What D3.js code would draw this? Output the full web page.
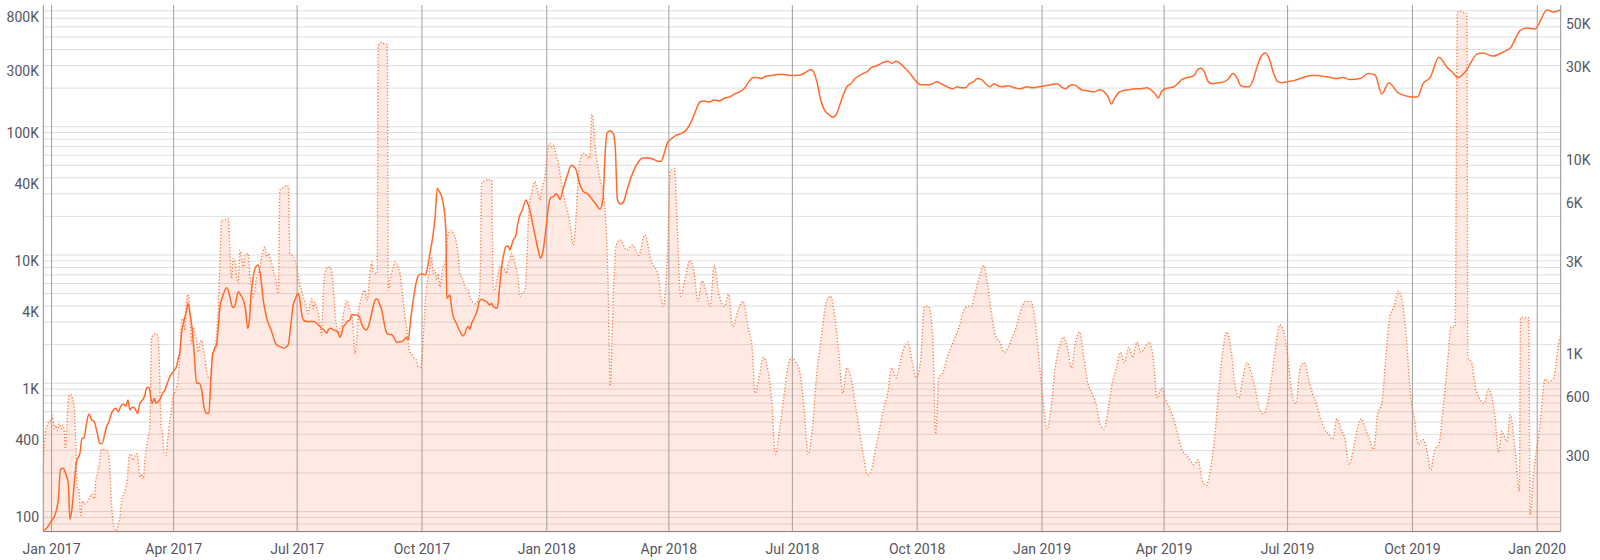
<!DOCTYPE html>
<html><head><meta charset="utf-8">
<script src="https://cdn.jsdelivr.net/npm/d3@7"></script>
<style>body{margin:0;background:#fff;} svg{display:block;font-family:Roboto,"Noto Sans",sans-serif;}</style>
</head><body><svg id="c" width="1600" height="560"></svg>
<script>
const baseDate = "2017-01-01";
const xDomainDays = [-6.1, 1112.3];
const leftDomain = [69.8, 888500];
const rightDomain = [114, 58500];
const leftTicks = [100, 400, 1000, 4000, 10000, 40000, 100000, 300000, 800000];
const leftTickLabels = ["100", "400", "1K", "4K", "10K", "40K", "100K", "300K", "800K"];
const rightTicks = [300, 600, 1000, 3000, 6000, 10000, 30000, 50000];
const rightTickLabels = ["300", "600", "1K", "3K", "6K", "10K", "30K", "50K"];
const xTickDates = ["2017-01-01","2017-04-01","2017-07-01","2017-10-01","2018-01-01","2018-04-01","2018-07-01","2018-10-01","2019-01-01","2019-04-01","2019-07-01","2019-10-01","2020-01-01"];

const solidDays = [-6.1,-3.7,0,1.7,4.9,6.6,8.6,10.3,12.3,13.5,15.2,16.7,18.4,20.9,22.4,23.8,25.8,27.5,29.5,31.4,33.7,35.6,37.3,39.3,40.5,42.3,43.7,45.5,47.4,49.1,50.9,52.8,54.8,56.3,57.7,59.7,61.4,63.4,65.1,67.1,68.8,70.0,71.3,72.5,73.2,74.4,75.7,76.9,78.6,80.3,81.8,83.5,85.3,87.2,89.7,92.1,93.4,94.6,95.8,97.5,99.5,100.7,102.0,103.4,104.9,106.9,108.8,110.6,112.3,114.3,116.0,117.4,118.7,120.4,121.6,122.9,124.1,126.0,127.8,129.0,130.5,131.9,133.4,134.6,136.1,137.6,139.3,141.3,143.0,144.5,145.7,146.9,148.7,150.6,152.3,154.1,156.0,158.0,159.7,161.4,163.4,165.1,167.1,169.5,171.5,173.2,174.4,176.2,178.1,179.9,181.3,182.6,184.3,185.5,188.0,190.4,192.9,194.8,196.6,199.0,200.7,202.7,203.9,205.7,207.6,209.6,211.3,212.5,213.8,215.0,216.2,217.9,219.9,221.1,222.9,224.8,226.8,228.5,230.2,232.2,234.2,235.9,237.1,238.8,240.0,242.0,243.2,244.5,246.2,248.2,250.6,252.3,254.3,256.0,258.0,260.4,261.7,262.9,264.6,266.6,268.6,270.3,272.0,274.0,275.7,277.2,278.9,280.8,282.6,284.3,285.8,287.5,289.2,290.7,291.2,292.4,293.6,294.9,296.1,298.1,299.8,301.5,303.0,304.7,305.9,307.1,308.4,309.6,310.8,312.0,313.8,315.2,316.9,318.7,320.6,323.1,324.3,325.6,328.5,330.0,331.7,333.4,334.9,336.6,337.8,339.1,340.3,342.3,343.2,345.2,346.9,348.4,349.6,351.4,353.3,355.0,357.0,358.7,360.4,361.9,363.1,364.8,366.6,368.1,369.8,371.8,373.0,374.7,
377.1,380.1,383.1,386.1,389.2,392.2,395.2,398.2,401.2,404.2,406.4,408,409.5,411.7,414,415.5,417,419.2,421.5,423.8,426.8,429.8,432.8,435.8,439.6,443.3,447.1,449.3,451.6,453.9,456.9,459.9,463.6,467.4,471.2,474.9,477.9,480.9,484.7,488.4,492.2,496,499.7,503.5,507.3,511,514,517,520,523,526.1,530.6,535.1,539.6,544.1,548.6,553.1,556.9,559.9,562.2,564.4,566.7,569.7,572.7,575.7,578,580.2,583.2,586.2,589.2,592.3,595.3,598.3,601.3,604.3,607.3,610.3,613.3,616.3,619.3,622.4,625.4,628.4,631.4,634.4,637.4,640.4,643.4,646.4,649.4,652.4,655.5,658.5,661.5,664.5,667.5,670.5,673.5,676.5,679.5,682.5,685.5,688.5,691.6,694.6,697.6,700.6,705.1,709.6,714.1,718.6,723.1,727.6,732.2,736.7,741.2,744.2,747.2,750.2,753.2,756.2,759.2,763.8,768.3,772.8,775.8,778.8,781.1,783.3,786.3,789.3,793.9,798.4,802.9,807.4,810.4,813.4,815.7,817.9,820.9,824,827,830,833,837.5,842,845,847.3,849.5,852.5,855.5,860.1,864.6,867.6,870.6,873.6,876.6,879.6,882.6,885.6,888.6,891.6,894.6,897.6,900.7,903.7,906.7,911.2,915.7,920.3,924.7,929.3,933.8,938.3,942.8,947.3,951.8,957.1,964.6,970.6,975.5,980.4,985.7,992.5,1003.7,1006.7,1010.9,1016.1,1022.5,1028.6,1032.3,1036.8,1041.9,1050.7,1054.9,1062.4,1069.9,1075.2,1082.7,1087.6,1093.2,1102.3,1106.8,1112];
const solidValues = [71,74,85,90,123,214,218,199,166,87,109,166,245,285,372,372,488,577,518,502,407,340,340,407,459,502,566,619,638,601,658,690,666,741,619,650,638,583,698,741,811,914,931,861,764,698,764,698,719,764,836,887,1000,1127,1233,1349,1567,1766,2455,3027,3727,4200,3510,2765,1820,1000,1000,887,658,583,583,1094,1663,1875,1990,2765,3955,4732,5335,5560,5176,4460,3910,3910,4460,5176,4875,4460,3727,2685,3027,4732,6780,8110,8360,6780,4460,3405,2935,2685,2310,2050,1955,1910,1875,1930,1990,2765,4075,4590,5025,4732,3510,3120,3027,3027,3027,2980,2850,2685,2605,2455,2605,2685,2605,2560,2455,2280,2455,2765,2850,3027,3120,3405,3405,3405,3305,2900,2685,2605,2935,3510,4005,4515,4540,4075,3775,3210,2605,2410,2400,2280,2085,2105,2105,2215,2280,2175,3120,4460,6010,6900,7070,7070,6990,8110,10300,13490,19300,33070,31160,28500,23120,14750,4590,4732,4875,3840,3305,2970,2685,2485,2340,2455,2685,2765,2640,2935,3120,3305,3727,4325,4515,4420,4325,4075,4200,3955,3840,5335,8110,10300,11610,11750,10930,11960,13090,14320,16630,20500,22440,24970,26830,24530,20500,16630,13090,10930,9420,10300,12330,17660,25290,28120,28500,29850,29300,27160,
32820,41650,50000,47300,35970,31070,29950,27330,24950,22760,27330,62300,89900,93200,88200,68300,27330,24950,25870,31070,39430,47300,53800,56900,56900,55800,53800,53800,62300,74800,80500,85100,88200,93200,108000,134500,155700,158500,155700,161500,158500,167500,170600,180300,186900,201100,224500,241600,241600,237300,246100,250600,255300,255300,250600,250600,255300,269700,279700,260000,216400,164500,134500,125000,118300,122700,139500,173800,204800,216400,237300,250600,260000,269700,290000,295500,306600,318000,324000,312000,324000,312000,290000,269700,246100,224500,212500,212500,212500,216400,224500,216400,208600,201100,197500,204800,201100,201100,216400,224500,237300,232900,216400,204800,216400,208600,204800,208600,201100,197500,204800,201100,204800,208600,212500,216400,204800,197500,208600,212500,204800,193900,190400,186900,193900,186900,170600,150100,164500,183500,190400,193900,197500,197500,201100,193900,180300,167500,186900,197500,201100,204800,216400,232900,241600,250600,279700,284900,269700,224500,216400,220400,224500,237300,260000,241600,208600,204800,204800,232900,295500,355000,375000,336000,260000,224500,220400,224500,228700,237300,246100,250600,250600,246100,241600,237300,241600,232900,237300,260000,252900,180300,220400,183500,170600,170600,216400,241600,348000,290000,266700,241600,266700,368000,375000,355000,382000,411000,567000,588000,578000,812000,783000,812000];

const dottedDays = [-6.5,-4.9,-3.2,-1.7,0,0.7,2.0,3.2,4.2,5.7,6.9,8.1,9.3,10.3,11.5,12.8,14.3,15.5,16.7,17.9,18.9,20.1,21.4,22.9,24.1,25.8,27.8,29.5,31.4,32.7,33.9,35.1,36.4,38.1,39.8,41.0,42.3,43.0,44.2,45.5,46.7,47.9,49.1,50.4,51.6,53.3,54.8,56.0,57.2,58.5,60.2,61.4,62.7,63.9,65.1,66.3,67.6,68.8,70.0,71.3,72.5,73.7,74.9,76.7,78.6,79.9,80.6,81.8,83.0,84.3,85.5,87.2,88.5,89.7,90.9,92.1,93.4,94.6,95.8,97.1,98.3,99.5,100.7,102.0,103.2,104.4,105.7,106.9,108.1,109.3,110.6,111.8,113.0,114.3,115.5,117.2,118.7,120.4,122.9,124.1,125.3,127.0,128.5,130.2,131.4,132.7,133.9,135.1,136.4,137.6,138.8,140.0,141.3,142.5,145.0,146.2,147.4,148.6,149.9,151.1,152.3,153.6,154.8,157.3,158.5,159.7,162.2,163.4,164.6,165.8,167.1,168.3,169.5,170.8,172.0,173.2,174.5,175.7,177.6,179.4,180.6,181.8,183.0,184.3,185.5,186.7,188.0,189.2,190.4,191.6,192.9,194.1,195.3,196.6,197.8,199.0,200.2,201.5,202.7,203.9,205.2,206.4,207.6,208.8,210.1,211.3,212.5,213.8,215.0,216.2,217.4,218.7,219.9,221.1,222.4,223.6,224.8,226.0,227.3,228.5,229.7,231.0,232.2,233.4,234.6,235.9,237.1,238.3,240.0,240.8,243,245,247.4,248.2,249.4,250.6,251.8,253.1,254.3,255.5,256.8,258.0,259.2,260.4,261.7,262.9,264.1,265.4,266.6,267.8,269.0,270.3,271.5,272.7,274.0,275.2,276.4,277.6,278.9,280.1,281.3,282.6,283.8,285.0,286.2,287.5,288.7,289.9,292.4,293.6,294.8,296.1,297.3,298.5,299.8,301.0,302.2,303.4,304.7,307.1,308.4,309.6,312.0,314.5,315.7,317.0,318.2,320.6,321.9,323.1,324.3,325.6,326.8,328.0,330.5,332.9,334.2,335.4,336.6,337.8,339.1,340.3,341.5,342.8,344.0,345.2,346.4,347.7,348.9,350.1,351.4,352.6,353.8,355.0,356.3,357.5,358.7,360.0,361.2,362.4,363.6,364.9,366.1,367.3,368.6,369.8,371.0,372.2,373.5,374.7,
377.1,381.6,384.6,389.2,392.2,396.7,398.2,401.2,404.2,407.2,410.2,411.7,414,416.2,419.2,423.8,428.3,432.8,437.3,441.8,447.1,450.8,453.9,456.1,459.1,461.4,463.6,467.4,470.4,473.4,476.4,479.4,482.4,485.4,488.4,492.2,496,499,502,505.7,509.5,513.3,516.3,518.5,521.5,524.6,527.6,530.6,533.6,536.6,539.6,542.6,545.6,548.6,551.6,554.6,557.6,560.7,563.7,567.4,571.2,574.2,577.2,580.2,583.2,586.2,589.2,592.3,595.3,598.3,601.3,604.3,607.3,610.3,613.3,616.3,619.3,622.4,625.4,628.4,631.4,634.4,637.4,640.4,643.4,646.4,649.4,651.7,653.9,656.9,660,663,666,669,672,675,678,681,684,687,690,693.1,696.1,699.1,702.1,705.1,708.1,711.1,714.1,717.9,721.6,724.6,727.6,730.6,733.7,736.7,739.7,742.7,745.7,748.7,751.7,754.7,757.7,760.8,763.8,766.8,769.8,772.8,775.8,778.8,781.8,784.8,787.8,790.8,793.9,796.9,799.9,802.9,805.9,808.9,811.9,814.9,817.9,820.9,824,827,830,833,836,839,842,845,848,851,854.1,857.1,860.1,863.1,866.1,869.1,872.1,875.1,878.1,881.1,884.2,887.1,890.2,893.2,896.2,899.2,902.2,905.2,908.2,911.2,914.2,917.2,920.3,923.3,926.3,929.3,932.3,935.3,938.3,941.3,944.3,947.3,950.3,953.3,956.4,959.4,962.4,965.4,968.4,971.4,974.4,977.4,980.4,983.4,986.4,989.5,992.5,995.5,998.5,1001.5,1004.5,1007.5,1010.5,1013.5,1016.5,1019.5,1022.5,1025.6,1028.6,1031.6,1034.5,1036.2,1038,1040.5,1043.1,1043.9,1046.6,1049.6,1052.6,1055.6,1059.1,1063.9,1066.5,1068.9,1072.6,1075.1,1078.7,1081.9,1082.7,1088.7,1089.8,1092.1,1097,1100.8,1103,1106.8,1111.7,1112.3];
const dottedValues = [217,349,401,422,428,452,385,401,378,409,385,401,378,304,426,573,577,551,499,323,193,189,138,164,158,161,168,178,168,213,226,254,298,304,298,298,275,235,158,125,117,115,125,135,164,178,193,217,281,286,265,281,286,265,217,226,213,265,310,349,409,1122,1167,1191,1135,632,401,363,286,281,336,426,479,583,594,632,711,939,1393,1422,1239,1767,1898,1509,1057,1288,1191,1100,957,1057,1100,996,902,771,711,698,939,1016,1633,2731,4570,4570,4620,4660,3200,2286,2897,2844,2333,2172,3200,2958,2624,2990,3076,2333,2070,1840,1991,2333,2426,2624,2958,3327,2958,3076,2731,2525,2377,2113,1914,6520,6650,6730,6840,6920,6780,3076,3000,2844,2624,2333,2113,1991,1840,1733,1600,1509,1698,1800,1600,1733,1633,1509,1340,1167,1914,2426,2576,2624,2624,2525,2070,1570,1288,1191,1288,1314,1509,1633,1767,1698,1570,1509,1239,939,1100,1509,1698,1840,1951,1991,1767,1914,2426,2786,2474,2426,2426,36000,37500,37000,36500,1991,2244,2426,2624,2786,2731,2624,2426,2070,1767,1451,1288,1057,957,939,902,885,867,801,801,834,1143,1633,2070,2333,2624,2958,2426,2525,2244,2426,2070,2333,2624,2731,3900,3980,4060,3900,3750,3465,2958,2426,2333,2244,2070,1991,1840,1767,1698,1767,2070,7060,7200,7340,7440,7340,7340,1991,1991,2196,2624,2624,2525,2426,2731,2844,3076,2958,2731,2525,2244,1840,1914,1951,1991,2624,4570,5790,6270,6920,7200,6790,6270,5790,6520,7060,7640,9310,10900,11350,10900,11130,10490,9690,8960,7940,
6230,4600,3400,8960,10110,9520,16020,10110,7470,5865,2095,639,1855,3400,3612,3200,3400,3012,3840,2835,2364,1644,3012,8130,8430,3840,1855,2364,2835,2512,1746,2225,1971,1644,2670,1855,1644,1901,1290,1547,1746,1290,1013,587,704,897,795,553,284,384,553,795,897,845,748,490,284,384,704,1144,1746,1855,1457,953,587,795,704,520,384,284,223,237,302,384,490,587,795,704,845,1013,1076,845,704,845,1644,1644,1144,362,704,748,897,1013,1144,1290,1547,1644,1644,1971,2364,2670,2095,1457,1144,1076,953,1013,1144,1290,1547,1746,1746,1457,897,553,384,490,795,1013,1144,1013,795,1076,1214,897,663,587,520,408,384,490,663,795,953,845,1013,897,1076,953,1013,1076,897,553,624,553,490,434,362,302,284,267,252,267,210,197,237,340,587,953,1214,1013,663,553,704,845,748,624,490,461,520,704,1013,1322,1214,897,587,520,795,845,704,587,520,434,384,362,340,434,384,340,252,302,384,434,384,340,302,461,520,897,1457,1644,1971,1746,1144,587,434,320,340,302,237,302,320,490,795,1290,1290,53500,54500,53500,53000,897,845,624,553,520,617,444,291,375,332,455,298,184,1439,1439,139,220,398,696,671,696,1130,1150];

const plot = {left: 43.3, right: 1560.7, top: 5, bottom: 531.6};
const parseDay = d3.utcParse("%Y-%m-%d");
const base = parseDay(baseDate);
const dayToDate = d => new Date(base.getTime() + d * 86400000);

const x = d3.scaleUtc().domain(xDomainDays.map(dayToDate)).range([plot.left, plot.right]);
const yL = d3.scaleLog().domain(leftDomain).range([plot.bottom, plot.top]);
const yR = d3.scaleLog().domain(rightDomain).range([plot.bottom, plot.top]);

const svg = d3.select("#c");
const textColor = "#555560";

svg.append("defs").append("clipPath").attr("id", "clip").append("rect")
  .attr("x", plot.left).attr("y", plot.top).attr("width", plot.right - plot.left).attr("height", plot.bottom - plot.top);

// horizontal minor grid (left log scale ticks)
const gridVals = yL.ticks().filter(v => v >= leftDomain[0] && v <= leftDomain[1]);
svg.append("g").selectAll("line").data(gridVals).join("line")
  .attr("x1", plot.left).attr("x2", plot.right)
  .attr("y1", d => yL(d)).attr("y2", d => yL(d))
  .attr("stroke", "#dedede").attr("stroke-width", 1);

const solid = solidDays.map((d, i) => ({date: dayToDate(d), v: solidValues[i]}));
const dotted = dottedDays.map((d, i) => ({date: dayToDate(d), v: dottedValues[i]}));

const gData = svg.append("g").attr("clip-path", "url(#clip)");
const area = d3.area().x(d => x(d.date)).y0(plot.bottom).y1(d => yR(d.v)).curve(d3.curveMonotoneX);
gData.append("path").datum(dotted).attr("d", area)
  .attr("fill", "#ff7043").attr("fill-opacity", 0.15);

// vertical grid
const xt = xTickDates.map(s => parseDay(s));
svg.append("g").selectAll("line").data(xt).join("line")
  .attr("x1", d => x(d)).attr("x2", d => x(d))
  .attr("y1", plot.top).attr("y2", plot.bottom)
  .attr("stroke", "#9e9e9e").attr("stroke-width", 1);

// frame
svg.append("line").attr("x1", plot.left).attr("x2", plot.left).attr("y1", plot.top).attr("y2", plot.bottom).attr("stroke", "#8f8f8f");
svg.append("line").attr("x1", plot.right).attr("x2", plot.right).attr("y1", plot.top).attr("y2", plot.bottom).attr("stroke", "#8f8f8f");
svg.append("line").attr("x1", plot.left).attr("x2", plot.right).attr("y1", plot.bottom).attr("y2", plot.bottom).attr("stroke", "#8a7f7c");

const gLines = svg.append("g").attr("clip-path", "url(#clip)");
gLines.append("path").datum(dotted)
  .attr("d", d3.line().x(d => x(d.date)).y(d => yR(d.v)).curve(d3.curveMonotoneX))
  .attr("fill", "none").attr("stroke", "#ff7a45").attr("stroke-width", 1.4).attr("stroke-dasharray", "1.2,2");
gLines.append("path").datum(solid)
  .attr("d", d3.line().x(d => x(d.date)).y(d => yL(d.v)).curve(d3.curveMonotoneX))
  .attr("fill", "none").attr("stroke", "#ff6a2b").attr("stroke-width", 1.5);

// labels
svg.append("g").selectAll("text").data(leftTicks).join("text")
  .attr("x", 39).attr("y", d => yL(d) + 6).attr("dy", "0.35em")
  .attr("text-anchor", "end").attr("font-size", 14).attr("fill", textColor)
  .text((d, i) => leftTickLabels[i]);
svg.append("g").selectAll("text").data(rightTicks).join("text")
  .attr("x", 1566).attr("y", d => yR(d) + 6).attr("dy", "0.35em")
  .attr("text-anchor", "start").attr("font-size", 14).attr("fill", textColor)
  .text((d, i) => rightTickLabels[i]);
const fmt = d3.utcFormat("%b %Y");
svg.append("g").selectAll("text").data(xt).join("text")
  .attr("x", d => x(d)).attr("y", 553.5)
  .attr("text-anchor", "middle").attr("font-size", 14).attr("fill", textColor)
  .text(d => fmt(d));
</script></body></html>
